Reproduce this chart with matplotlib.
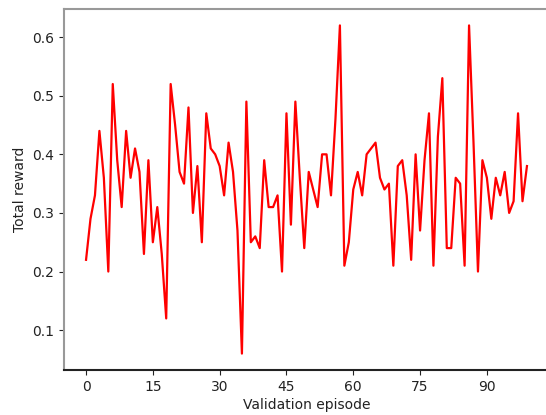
import matplotlib
matplotlib.use("Agg")
import matplotlib.pyplot as plt
import numpy as np

episodes = list(range(100))
rewards = [
    0.22, 0.29, 0.33, 0.44, 0.36, 0.20, 0.52, 0.39, 0.31, 0.44,
    0.36, 0.41, 0.37, 0.23, 0.39, 0.25, 0.31, 0.23, 0.12, 0.52,
    0.45, 0.37, 0.35, 0.48, 0.30, 0.38, 0.25, 0.47, 0.41, 0.40,
    0.38, 0.33, 0.42, 0.37, 0.27, 0.06, 0.49, 0.25, 0.26, 0.24,
    0.39, 0.31, 0.31, 0.33, 0.20, 0.47, 0.28, 0.49, 0.36, 0.24,
    0.37, 0.34, 0.31, 0.40, 0.40, 0.33, 0.46, 0.62, 0.21, 0.25,
    0.34, 0.37, 0.33, 0.40, 0.41, 0.42, 0.36, 0.34, 0.35, 0.21,
    0.38, 0.39, 0.33, 0.22, 0.40, 0.27, 0.39, 0.47, 0.21, 0.43,
    0.53, 0.24, 0.24, 0.36, 0.35, 0.21, 0.62, 0.42, 0.20, 0.39,
    0.36, 0.29, 0.36, 0.33, 0.37, 0.30, 0.32, 0.47, 0.32, 0.38,
]
xticks = [0, 15, 30, 45, 60, 75, 90]
yticks = [0.1, 0.2, 0.3, 0.4, 0.5, 0.6]

fig = plt.figure(figsize=(5.46, 4.15), dpi=100)
ax = fig.add_axes([64/546, 1-370/415, (549-64)/546, (370-9)/415])
ax.plot(episodes, rewards, color="red", linewidth=1.6)
ax.set_xticks(xticks)
ax.set_yticks(yticks)
ax.set_xlim(-4.95, 103.95)
ax.set_ylim(0.032, 0.648)
ax.set_xlabel("Validation episode", fontsize=10, color="#222222", labelpad=3)
ax.set_ylabel("Total reward", fontsize=10, color="#222222")
ax.tick_params(labelsize=10, colors="#222222")
ax.spines["left"].set_color("#999999")
ax.spines["top"].set_color("#999999")
ax.spines["right"].set_visible(False)
ax.spines["bottom"].set_color("#222222")
for s in ax.spines.values():
    s.set_linewidth(1.5)
fig.savefig("out.png", dpi=100)
